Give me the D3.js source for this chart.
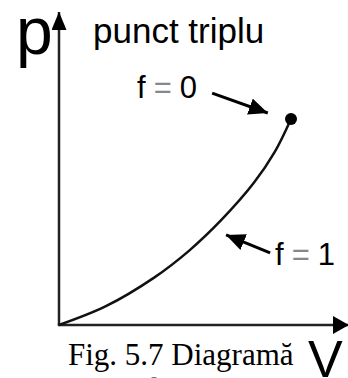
<!DOCTYPE html>
<html lang="ro">
<head>
  <meta charset="UTF-8">
  <script src="https://d3js.org/d3.v7.min.js"></script>
  <title>Diagramă de fază</title>
  <style>
    html, body { margin: 0; padding: 0; background: #fff; overflow: hidden; }
  </style>
</head>
<body>
  <svg style="width:348px;height:378px;display:block"></svg>
  <script>
    // curba de vaporizare (unitati arbitrare)
    const curveV = [0, 2, 4.1, 5.6, 7, 8.4, 9.3, 10];
    const curveP = [0, 0.9, 2.3, 3.6, 5.1, 6.9, 8.4, 10];

    // punctul triplu
    const tripleV = [10];
    const tripleP = [10];

    // capetele axelor
    const axisEnd = { V: 12.5, p: 15.2 };

    // sagetile: [coada, varf]
    const arrowLabels = ["f = 0", "f = 1"];
    const arrowV = [[6.6, 9.0], [9.1, 7.2]];
    const arrowP = [[11.26, 10.29], [3.5, 4.37]];

    const svg = d3.select("svg");
    const xScale = d3.scaleLinear().domain([0, 10]).range([59, 291]);
    const yScale = d3.scaleLinear().domain([0, 10]).range([325, 119]);

    const defs = svg.append("defs");
    const addHead = (id, len, w) => {
      defs.append("marker")
        .attr("id", id)
        .attr("markerUnits", "userSpaceOnUse")
        .attr("viewBox", `0 ${-w / 2} ${len} ${w}`)
        .attr("refX", len)
        .attr("refY", 0)
        .attr("markerWidth", len)
        .attr("markerHeight", w)
        .attr("orient", "auto")
        .append("path")
        .attr("d", `M0,${-w / 2}L${len},0L0,${w / 2}Z`)
        .attr("fill", "#000");
    };
    addHead("headY", 18, 15);
    addHead("headX", 16, 18);
    addHead("headF", 19, 17);

    // axe
    svg.append("line")
      .attr("x1", xScale(0)).attr("y1", yScale(0))
      .attr("x2", xScale(0)).attr("y2", yScale(axisEnd.p))
      .attr("stroke", "#222").attr("stroke-width", 2.5)
      .attr("marker-end", "url(#headY)");
    svg.append("line")
      .attr("x1", xScale(0) - 1.2).attr("y1", yScale(0))
      .attr("x2", xScale(axisEnd.V)).attr("y2", yScale(0))
      .attr("stroke", "#222").attr("stroke-width", 2.5)
      .attr("marker-end", "url(#headX)");

    // curba
    const pts = curveV.map((v, i) => [v, curveP[i]]);
    const line = d3.line()
      .x(d => xScale(d[0]))
      .y(d => yScale(d[1]))
      .curve(d3.curveCatmullRom);
    svg.append("path")
      .attr("d", line(pts))
      .attr("fill", "none")
      .attr("stroke", "#111")
      .attr("stroke-width", 2.5);

    svg.selectAll("circle.triple")
      .data(tripleV)
      .enter()
      .append("circle")
      .attr("class", "triple")
      .attr("cx", d => xScale(d))
      .attr("cy", (d, i) => yScale(tripleP[i]))
      .attr("r", 6)
      .attr("fill", "#000");

    // sageti
    arrowLabels.forEach((lab, i) => {
      svg.append("line")
        .attr("x1", xScale(arrowV[i][0])).attr("y1", yScale(arrowP[i][0]))
        .attr("x2", xScale(arrowV[i][1])).attr("y2", yScale(arrowP[i][1]))
        .attr("stroke", "#000").attr("stroke-width", 3)
        .attr("marker-end", "url(#headF)");
    });

    // texte
    const sans = "Liberation Sans, Arial, sans-serif";
    svg.append("text")
      .attr("x", 16).attr("y", 54)
      .attr("font-family", sans).attr("font-size", 66)
      .attr("fill", "#000")
      .text("p");
    svg.append("text")
      .attr("x", 93).attr("y", 43)
      .attr("font-family", sans).attr("font-size", 35)
      .attr("fill", "#000")
      .text("punct triplu");

    const fLabels = [{ x: 137, y: 98 }, { x: 275, y: 265 }];
    arrowLabels.forEach((lab, i) => {
      const parts = lab.split(" ");
      const t = svg.append("text")
        .attr("x", fLabels[i].x).attr("y", fLabels[i].y)
        .attr("font-family", sans).attr("font-size", 31)
        .attr("fill", "#000");
      t.append("tspan").text(parts[0]);
      t.append("tspan").attr("dx", 8).attr("fill", "#888").text(parts[1]);
      t.append("tspan").attr("dx", 8).text(parts[2]);
    });

    svg.append("text")
      .attr("x", 308).attr("y", 377)
      .attr("font-family", sans).attr("font-size", 52)
      .attr("fill", "#000")
      .text("V");

    const serif = "Liberation Serif, Times New Roman, serif";
    svg.append("text")
      .attr("x", 68).attr("y", 365)
      .attr("font-family", serif).attr("font-size", 31)
      .attr("fill", "#000")
      .text("Fig. 5.7 Diagramă");
    svg.append("text")
      .attr("x", 143).attr("y", 400)
      .attr("font-family", serif).attr("font-size", 31)
      .attr("fill", "#000")
      .text("de fază");
  </script>
</body>
</html>
